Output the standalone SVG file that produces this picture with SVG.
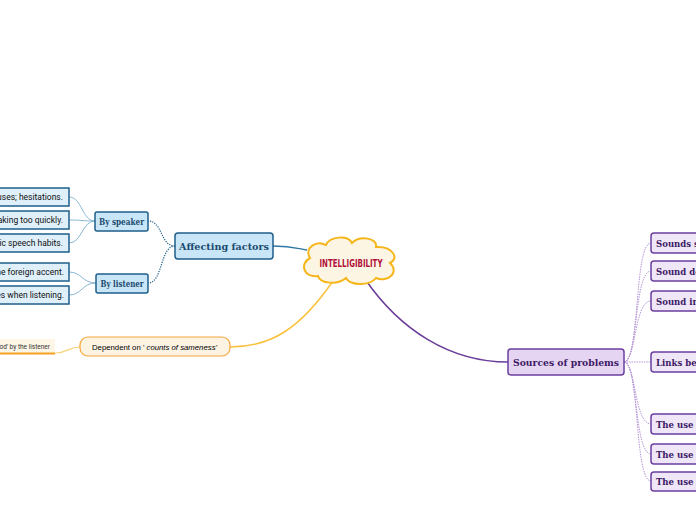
<svg xmlns="http://www.w3.org/2000/svg" width="696" height="520" viewBox="0 0 696 520">
<style>
.lb{fill:#dff0fb;stroke:#1f5f8b;stroke-width:1.5}
.lt{font-family:"Roboto","Liberation Sans",sans-serif;font-size:8.5px;fill:#111}
.bb{fill:#c9e6f8;stroke:#1f5f8b;stroke-width:1.5}
.bt{font-family:"DejaVu Serif",serif;font-weight:bold;font-size:9px;fill:#1a4a6e}
.pb{fill:#efe6f7;stroke:#6b3fa0;stroke-width:1.5}
.pt{font-family:"DejaVu Serif Condensed","DejaVu Serif",serif;font-stretch:condensed;font-weight:bold;font-size:9.5px;fill:#3d1a66}
.c-blue{fill:none;stroke:#8ab6d3;stroke-width:1}
.c-dot{fill:none;stroke:#1f5f8b;stroke-width:1.2;stroke-dasharray:1.2,1.2}
.c-pdot{fill:none;stroke:#b596d6;stroke-width:1;stroke-dasharray:1.5,1}
</style>
<rect width="696" height="520" fill="#ffffff"/>
<g id="connectors">
  <path class="c-blue" d="M95,221 C82,221 82,197 69,197"/>
  <path class="c-blue" d="M95,221 C82,221 82,220 69,220"/>
  <path class="c-blue" d="M95,221 C82,221 82,243 69,243"/>
  <path class="c-blue" d="M96,283 C82,283 82,272 69,272"/>
  <path class="c-blue" d="M96,283 C82,283 82,295 69,295"/>
  <path class="c-dot" d="M175,246 C160,246 163,221 148,221"/>
  <path class="c-dot" d="M175,246 C160,246 163,283 148,283"/>
  <path d="M273,246 C290,246 296,248 307,250" fill="none" stroke="#2f78a6" stroke-width="1.5"/>
  <path d="M335,278 C300,330 270,347 230,347" fill="none" stroke="#f9c23c" stroke-width="1.5"/>
  <path d="M55,353 C68,353 68,347 80,347" fill="none" stroke="#f9d27a" stroke-width="1.2"/>
  <path d="M365,279 C400,330 450,362 508,362" fill="none" stroke="#6a3d9a" stroke-width="1.5"/>
  <path class="c-pdot" d="M624,362 C640,362 634,243 651,243"/>
  <path class="c-pdot" d="M624,362 C638,362 634,271 651,271"/>
  <path class="c-pdot" d="M624,362 C636,362 634,301 651,301"/>
  <path class="c-pdot" d="M624,362 C636,362 640,362 651,362"/>
  <path class="c-pdot" d="M624,362 C636,362 634,424 651,424"/>
  <path class="c-pdot" d="M624,362 C638,362 634,454 651,454"/>
  <path class="c-pdot" d="M624,362 C640,362 634,481 651,481"/>
</g>
<g id="central">
  <path d="M318,276 C304,278 299,264 310,258 C304,248 316,240 326,245 C330,236 348,235 352,243 C360,235 378,238 376,247 C392,246 400,258 390,263 C400,272 388,283 376,278 C370,286 350,286 346,278 C338,285 320,284 318,276 Z" fill="#fdf5e4" stroke="#f6b619" stroke-width="2"/>
  <text x="351" y="267" text-anchor="middle" font-family="DejaVu Sans Condensed,DejaVu Sans,sans-serif" font-weight="bold" font-size="10px" fill="#b0103a" textLength="63" lengthAdjust="spacingAndGlyphs">INTELLIGIBILITY</text>
</g>
<g id="affecting">
  <rect x="175" y="233" width="98" height="26" rx="3" class="bb"/>
  <text x="224" y="250" text-anchor="middle" class="bt" font-size="10.5px" textLength="90" lengthAdjust="spacingAndGlyphs">Affecting factors</text>
</g>
<g id="by-speaker">
  <rect x="95" y="212" width="53" height="19" rx="2" class="bb"/>
  <text x="121.5" y="224.5" text-anchor="middle" class="bt" textLength="45" lengthAdjust="spacingAndGlyphs">By speaker</text>
</g>
<g id="by-listener">
  <rect x="96" y="274" width="52" height="19" rx="2" class="bb"/>
  <text x="122" y="286.5" text-anchor="middle" class="bt" textLength="43" lengthAdjust="spacingAndGlyphs">By listener</text>
</g>
<g id="s1">
  <rect x="-20" y="188" width="89" height="18" class="lb"/>
  <text x="63" y="200" text-anchor="end" class="lt">uses; hesitations.</text>
</g>
<g id="s2">
  <rect x="-20" y="211" width="89" height="18" class="lb"/>
  <text x="63" y="223" text-anchor="end" class="lt">aking too quickly.</text>
</g>
<g id="s3">
  <rect x="-20" y="234" width="89" height="18" class="lb"/>
  <text x="63" y="246" text-anchor="end" class="lt">ic speech habits.</text>
</g>
<g id="l1">
  <rect x="-20" y="263" width="89" height="18" class="lb"/>
  <text x="64" y="275" text-anchor="end" class="lt">he foreign accent.</text>
</g>
<g id="l2">
  <rect x="-20" y="286" width="89" height="18" class="lb"/>
  <text x="64" y="298" text-anchor="end" class="lt">es when listening.</text>
</g>
<g id="understood">
  <rect x="0" y="339" width="55" height="14" fill="#fdf6e6"/>
  <line x1="0" y1="353.5" x2="55" y2="353.5" stroke="#f5a020" stroke-width="2"/>
  <text x="50" y="349" text-anchor="end" font-family="Roboto,Liberation Sans,sans-serif" font-size="6.5px" fill="#333">ood' by the listener</text>
</g>
<g id="dependent">
  <rect x="80" y="337" width="150" height="19" rx="8" fill="#fdf3e3" stroke="#f5a63a" stroke-width="1.2"/>
  <text x="92" y="350" font-family="Liberation Sans,sans-serif" font-size="8px" fill="#000" textLength="125" lengthAdjust="spacingAndGlyphs">Dependent on ' <tspan font-style="italic">counts of sameness'</tspan></text>
</g>
<g id="sources">
  <rect x="508" y="349" width="116" height="26" rx="3" fill="#e6d5f2" stroke="#6b3fa0" stroke-width="1.5"/>
  <text x="566" y="366" text-anchor="middle" class="pt" font-size="10.5px" textLength="106" lengthAdjust="spacingAndGlyphs">Sources of problems</text>
</g>
<g id="r1"><rect x="651" y="233" width="80" height="20" rx="3" class="pb"/><text x="656" y="246.5" class="pt">Sounds s</text></g>
<g id="r2"><rect x="651" y="261" width="80" height="20" rx="3" class="pb"/><text x="656" y="274.5" class="pt">Sound de</text></g>
<g id="r3"><rect x="651" y="291" width="80" height="20" rx="3" class="pb"/><text x="656" y="304.5" class="pt">Sound in</text></g>
<g id="r4"><rect x="651" y="352" width="80" height="20" rx="3" class="pb"/><text x="656" y="365.5" class="pt">Links be</text></g>
<g id="r5"><rect x="651" y="414" width="80" height="20" rx="3" class="pb"/><text x="656" y="427.5" class="pt">The use </text></g>
<g id="r6"><rect x="651" y="444" width="80" height="20" rx="3" class="pb"/><text x="656" y="457.5" class="pt">The use </text></g>
<g id="r7"><rect x="651" y="472" width="80" height="19" rx="3" class="pb"/><text x="656" y="485" class="pt">The use </text></g>
</svg>
